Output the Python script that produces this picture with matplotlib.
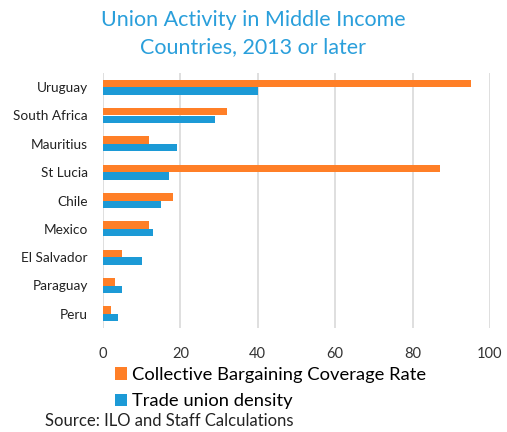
import matplotlib
matplotlib.use("Agg")
import matplotlib.pyplot as plt
import numpy as np

countries = ["Uruguay", "South Africa", "Mauritius", "St Lucia", "Chile",
             "Mexico", "El Salvador", "Paraguay", "Peru"]
coverage = [95, 32, 12, 87, 18, 12, 5, 3, 2]
density = [40, 29, 19, 17, 15, 13, 10, 5, 4]
xticks = [0, 20, 40, 60, 80, 100]

orange = "#FF7F27"
blue = "#1C9AD6"
title_blue = "#2A9FDB"

plt.rcParams["font.family"] = ["Lato", "DejaVu Sans"]

fig = plt.figure(figsize=(5.07, 4.32), dpi=100)
ax = fig.add_axes([103 / 507, 1 - 328 / 432, 387 / 507, 255 / 432])

y = np.arange(len(countries))
h = 0.26
ax.barh(y - h / 2, coverage, height=h, color=orange, label="Collective Bargaining Coverage Rate", zorder=3)
ax.barh(y + h / 2, density, height=h, color=blue, label="Trade union density", zorder=3)

ax.set_ylim(len(countries) - 0.5, -0.5)
ax.set_xlim(0, 100)
ax.set_xticks(xticks)
ax.set_xticklabels([str(t) for t in xticks], fontsize=10.5, color="#333333")
ax.set_yticks(y)
ax.set_yticklabels(countries, fontsize=9.8, color="#222222")
ax.tick_params(axis="both", length=0)
ax.tick_params(axis="x", pad=14)
ax.tick_params(axis="y", pad=11)
for s in ax.spines.values():
    s.set_visible(False)
ax.grid(axis="x", color="#D9D9D9", linewidth=1.2, zorder=0)
ax.set_axisbelow(True)

fig.text(0.5, 1 - 20 / 432, "Union Activity in Middle Income", ha="center", va="center",
         fontsize=15.5, color=title_blue)
fig.text(0.5, 1 - 47 / 432, "Countries, 2013 or later", ha="center", va="center",
         fontsize=15.5, color=title_blue)

handles, labels = ax.get_legend_handles_labels()
fig.legend(handles, labels, loc="upper left", bbox_to_anchor=(115 / 507, 1 - 367 / 432),
           frameon=False, fontsize=13.2, handlelength=0.65, handleheight=0.65,
           handletextpad=0.3, labelspacing=0.55, borderaxespad=0, borderpad=0)

fig.text(45 / 507, 1 - 421 / 432, "Source: ILO and Staff Calculations", ha="left", va="center",
         fontsize=12, color="#222222")

fig.savefig("out.png", dpi=100)
